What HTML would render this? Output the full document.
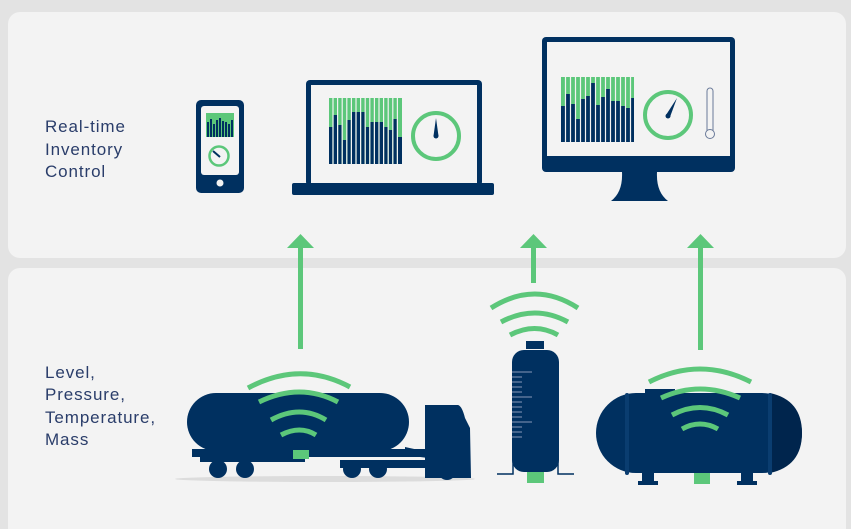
<!DOCTYPE html>
<html><head><meta charset="utf-8"><style>
html,body{margin:0;padding:0;background:#e3e3e3;}
svg{display:block}
</style></head><body>
<svg width="851" height="529" viewBox="0 0 851 529" xmlns="http://www.w3.org/2000/svg">
<rect x="0" y="0" width="851" height="529" fill="#e3e3e3"/>
<rect x="8" y="12" width="838" height="246" rx="12" fill="#f3f3f3"/>
<rect x="8" y="268" width="838" height="275" rx="12" fill="#f3f3f3"/>
<g font-family="Liberation Sans, sans-serif" font-size="17" letter-spacing="0.9" fill="#2a3d6a">
<text x="45" y="132">Real-time</text>
<text x="45" y="155">Inventory</text>
<text x="45" y="177">Control</text>
<text x="45" y="378">Level,</text>
<text x="45" y="400">Pressure,</text>
<text x="45" y="423">Temperature,</text>
<text x="45" y="445">Mass</text>
</g>
<!-- phone -->
<rect x="196" y="100" width="48" height="93" rx="5" fill="#003060"/>
<rect x="201" y="106" width="38" height="69" rx="3" fill="#f3f3f3"/>
<rect x="206" y="113" width="28" height="24" fill="#5cc77a"/>
<g fill="#003060">
<rect x="207" y="122" width="2" height="15"/><rect x="210" y="119" width="2" height="18"/><rect x="213" y="124" width="2" height="13"/><rect x="216" y="120" width="2" height="17"/><rect x="219" y="118" width="2" height="19"/><rect x="222" y="121" width="2" height="16"/><rect x="225" y="122" width="2" height="15"/><rect x="228" y="124" width="2" height="13"/><rect x="231" y="120" width="2" height="17"/>
</g>
<circle cx="219" cy="156" r="9.5" fill="none" stroke="#5cc77a" stroke-width="2.5"/>
<line x1="213" y1="151" x2="220" y2="157" stroke="#003060" stroke-width="2"/>
<circle cx="220" cy="183" r="3.5" fill="#f3f3f3"/>
<!-- laptop -->
<rect x="306" y="80" width="176" height="106" rx="4" fill="#003060"/>
<rect x="311" y="85" width="166" height="98" fill="#f3f3f3"/>
<rect x="292" y="183" width="202" height="12" rx="2" fill="#003060"/>
<rect x="329" y="98" width="73" height="66" fill="#5cc77a"/>
<g fill="#003060">
<rect x="329" y="127" width="3.4" height="37"/><rect x="333.6" y="115" width="3.4" height="49"/><rect x="338.2" y="125" width="3.4" height="39"/><rect x="342.8" y="140" width="3.4" height="24"/><rect x="347.4" y="120" width="3.4" height="44"/><rect x="352" y="112" width="3.4" height="52"/><rect x="356.6" y="112" width="3.4" height="52"/><rect x="361.2" y="112" width="3.4" height="52"/><rect x="365.8" y="127" width="3.4" height="37"/><rect x="370.4" y="122" width="3.4" height="42"/><rect x="375" y="122" width="3.4" height="42"/><rect x="379.6" y="122" width="3.4" height="42"/><rect x="384.2" y="127" width="3.4" height="37"/><rect x="388.8" y="130" width="3.4" height="34"/><rect x="393.4" y="119" width="3.4" height="45"/><rect x="398" y="137" width="4" height="27"/>
</g>
<g stroke="#f3f3f3" stroke-width="1.2">
<line x1="333" y1="98" x2="333" y2="164"/><line x1="337.6" y1="98" x2="337.6" y2="164"/><line x1="342.2" y1="98" x2="342.2" y2="164"/><line x1="346.8" y1="98" x2="346.8" y2="164"/><line x1="351.4" y1="98" x2="351.4" y2="164"/><line x1="356" y1="98" x2="356" y2="164"/><line x1="360.6" y1="98" x2="360.6" y2="164"/><line x1="365.2" y1="98" x2="365.2" y2="164"/><line x1="369.8" y1="98" x2="369.8" y2="164"/><line x1="374.4" y1="98" x2="374.4" y2="164"/><line x1="379" y1="98" x2="379" y2="164"/><line x1="383.6" y1="98" x2="383.6" y2="164"/><line x1="388.2" y1="98" x2="388.2" y2="164"/><line x1="392.8" y1="98" x2="392.8" y2="164"/><line x1="397.4" y1="98" x2="397.4" y2="164"/>
</g>
<circle cx="436" cy="136" r="23" fill="none" stroke="#5cc77a" stroke-width="4"/>
<path d="M436 118 L438.5 136 L433.5 136 Z" fill="#003060"/><circle cx="436" cy="136" r="2.5" fill="#003060"/>
<!-- monitor -->
<rect x="542" y="37" width="193" height="135" rx="4" fill="#003060"/>
<rect x="547" y="42" width="183" height="114" fill="#f3f3f3"/>
<path d="M622 172 L657 172 Q656 192 668 201 L611 201 Q623 192 622 172 Z" fill="#003060"/>
<rect x="561" y="77" width="73" height="65" fill="#5cc77a"/>
<g fill="#003060">
<rect x="561" y="106" width="4" height="36"/><rect x="566" y="94" width="4" height="48"/><rect x="571" y="104" width="4" height="38"/><rect x="576" y="119" width="4" height="23"/><rect x="581" y="99" width="4" height="43"/><rect x="586" y="96" width="4" height="46"/><rect x="591" y="83" width="4" height="59"/><rect x="596" y="105" width="4" height="37"/><rect x="601" y="97" width="4" height="45"/><rect x="606" y="89" width="4" height="53"/><rect x="611" y="101" width="4" height="41"/><rect x="616" y="101" width="4" height="41"/><rect x="621" y="106" width="4" height="36"/><rect x="626" y="108" width="4" height="34"/><rect x="631" y="98" width="3" height="44"/>
</g>
<g stroke="#f3f3f3" stroke-width="1.2">
<line x1="565.5" y1="77" x2="565.5" y2="142"/><line x1="570.5" y1="77" x2="570.5" y2="142"/><line x1="575.5" y1="77" x2="575.5" y2="142"/><line x1="580.5" y1="77" x2="580.5" y2="142"/><line x1="585.5" y1="77" x2="585.5" y2="142"/><line x1="590.5" y1="77" x2="590.5" y2="142"/><line x1="595.5" y1="77" x2="595.5" y2="142"/><line x1="600.5" y1="77" x2="600.5" y2="142"/><line x1="605.5" y1="77" x2="605.5" y2="142"/><line x1="610.5" y1="77" x2="610.5" y2="142"/><line x1="615.5" y1="77" x2="615.5" y2="142"/><line x1="620.5" y1="77" x2="620.5" y2="142"/><line x1="625.5" y1="77" x2="625.5" y2="142"/><line x1="630.5" y1="77" x2="630.5" y2="142"/>
</g>
<circle cx="668" cy="115" r="23" fill="none" stroke="#5cc77a" stroke-width="4"/>
<path d="M677 98 L670 117 L666 115 Z" fill="#003060"/><circle cx="668" cy="116" r="2.5" fill="#003060"/>
<rect x="707" y="88" width="6" height="46" rx="3" fill="#f3f3f3" stroke="#6a7a99" stroke-width="1"/>
<circle cx="710" cy="134" r="4.5" fill="#f3f3f3" stroke="#6a7a99" stroke-width="1"/>
<!-- arrows -->
<g fill="#5cc77a">
<rect x="298" y="246" width="5" height="103"/><path d="M287 248 L300.5 234 L314 248 Z"/>
<rect x="531" y="246" width="5" height="37"/><path d="M520 248 L533.5 234 L547 248 Z"/>
<rect x="698" y="246" width="5" height="104"/><path d="M687 248 L700.5 234 L714 248 Z"/>
</g>
<!-- truck -->
<ellipse cx="325" cy="479" rx="150" ry="3" fill="#dcdcdc"/>
<rect x="187" y="393" width="222" height="58" rx="29" fill="#003060"/>
<rect x="192" y="449" width="240" height="8" fill="#003060"/>
<rect x="200" y="456" width="105" height="6" fill="#003060"/>
<path d="M405 447 L428 452 L428 458 L405 455Z" fill="#003060"/>
<rect x="293" y="450" width="16" height="9" fill="#5cc77a"/>
<path d="M425 405 L458 405 Q462 406 465 418 L470 428 L471 478 L425 478 Z" fill="#003060"/>
<rect x="340" y="460" width="110" height="8" fill="#003060"/>
<g fill="#003060">
<circle cx="218" cy="469" r="9"/><circle cx="245" cy="469" r="9"/><circle cx="352" cy="469" r="9"/><circle cx="378" cy="469" r="9"/><circle cx="447" cy="471" r="9"/>
</g>
<!-- vertical tank -->
<rect x="526" y="341" width="18" height="8" fill="#003060"/>
<rect x="512" y="350" width="47" height="122" rx="12" fill="#003060"/>
<g stroke="#8898b8" stroke-width="1">
<line x1="512" y1="372" x2="532" y2="372"/><line x1="512" y1="377" x2="522" y2="377"/><line x1="512" y1="382" x2="522" y2="382"/><line x1="512" y1="387" x2="522" y2="387"/><line x1="512" y1="392" x2="522" y2="392"/><line x1="512" y1="397" x2="532" y2="397"/><line x1="512" y1="402" x2="522" y2="402"/><line x1="512" y1="407" x2="522" y2="407"/><line x1="512" y1="412" x2="522" y2="412"/><line x1="512" y1="417" x2="522" y2="417"/><line x1="512" y1="422" x2="532" y2="422"/><line x1="512" y1="427" x2="522" y2="427"/><line x1="512" y1="432" x2="522" y2="432"/><line x1="512" y1="437" x2="522" y2="437"/>
</g>
<path d="M497 474 L513 474 L513 455 M558 455 L558 474 L574 474" fill="none" stroke="#003060" stroke-width="1.5"/>
<rect x="527" y="472" width="17" height="11" fill="#5cc77a"/>
<!-- horizontal tank -->
<rect x="645" y="389" width="30" height="6" fill="#003060"/>
<rect x="596" y="393" width="206" height="80" rx="40" fill="#003060"/>
<path d="M770 393 Q802 400 802 433 Q802 466 770 473 Z" fill="#00254d"/>
<rect x="625" y="393" width="4" height="82" rx="2" fill="#0a3d70"/>
<rect x="768" y="393" width="4" height="82" rx="2" fill="#0a3d70"/>
<rect x="642" y="455" width="12" height="30" fill="#003060"/><rect x="638" y="481" width="20" height="4" fill="#003060"/>
<rect x="741" y="455" width="12" height="30" fill="#003060"/><rect x="737" y="481" width="20" height="4" fill="#003060"/>
<rect x="694" y="473" width="16" height="11" fill="#5cc77a"/>
<!-- waves -->
<g fill="none" stroke="#5cc77a" stroke-width="5" stroke-linecap="butt">
<path d="M248 388 Q300 360 350 387"/>
<path d="M259 402 Q300 382 338 402"/>
<path d="M271 420 Q300 404 326 420"/>
<path d="M281 435 Q300 425 316 435"/>
<path d="M491 308 Q535 280 578 308"/>
<path d="M501 322 Q535 304 568 322"/>
<path d="M510 335 Q535 322 558 335"/>
<path d="M649 382 Q700 356 751 382"/>
<path d="M661 398 Q700 380 740 398"/>
<path d="M672 415 Q700 400 728 415"/>
<path d="M682 429 Q700 419 718 429"/>
</g>
</svg>
</body></html>
